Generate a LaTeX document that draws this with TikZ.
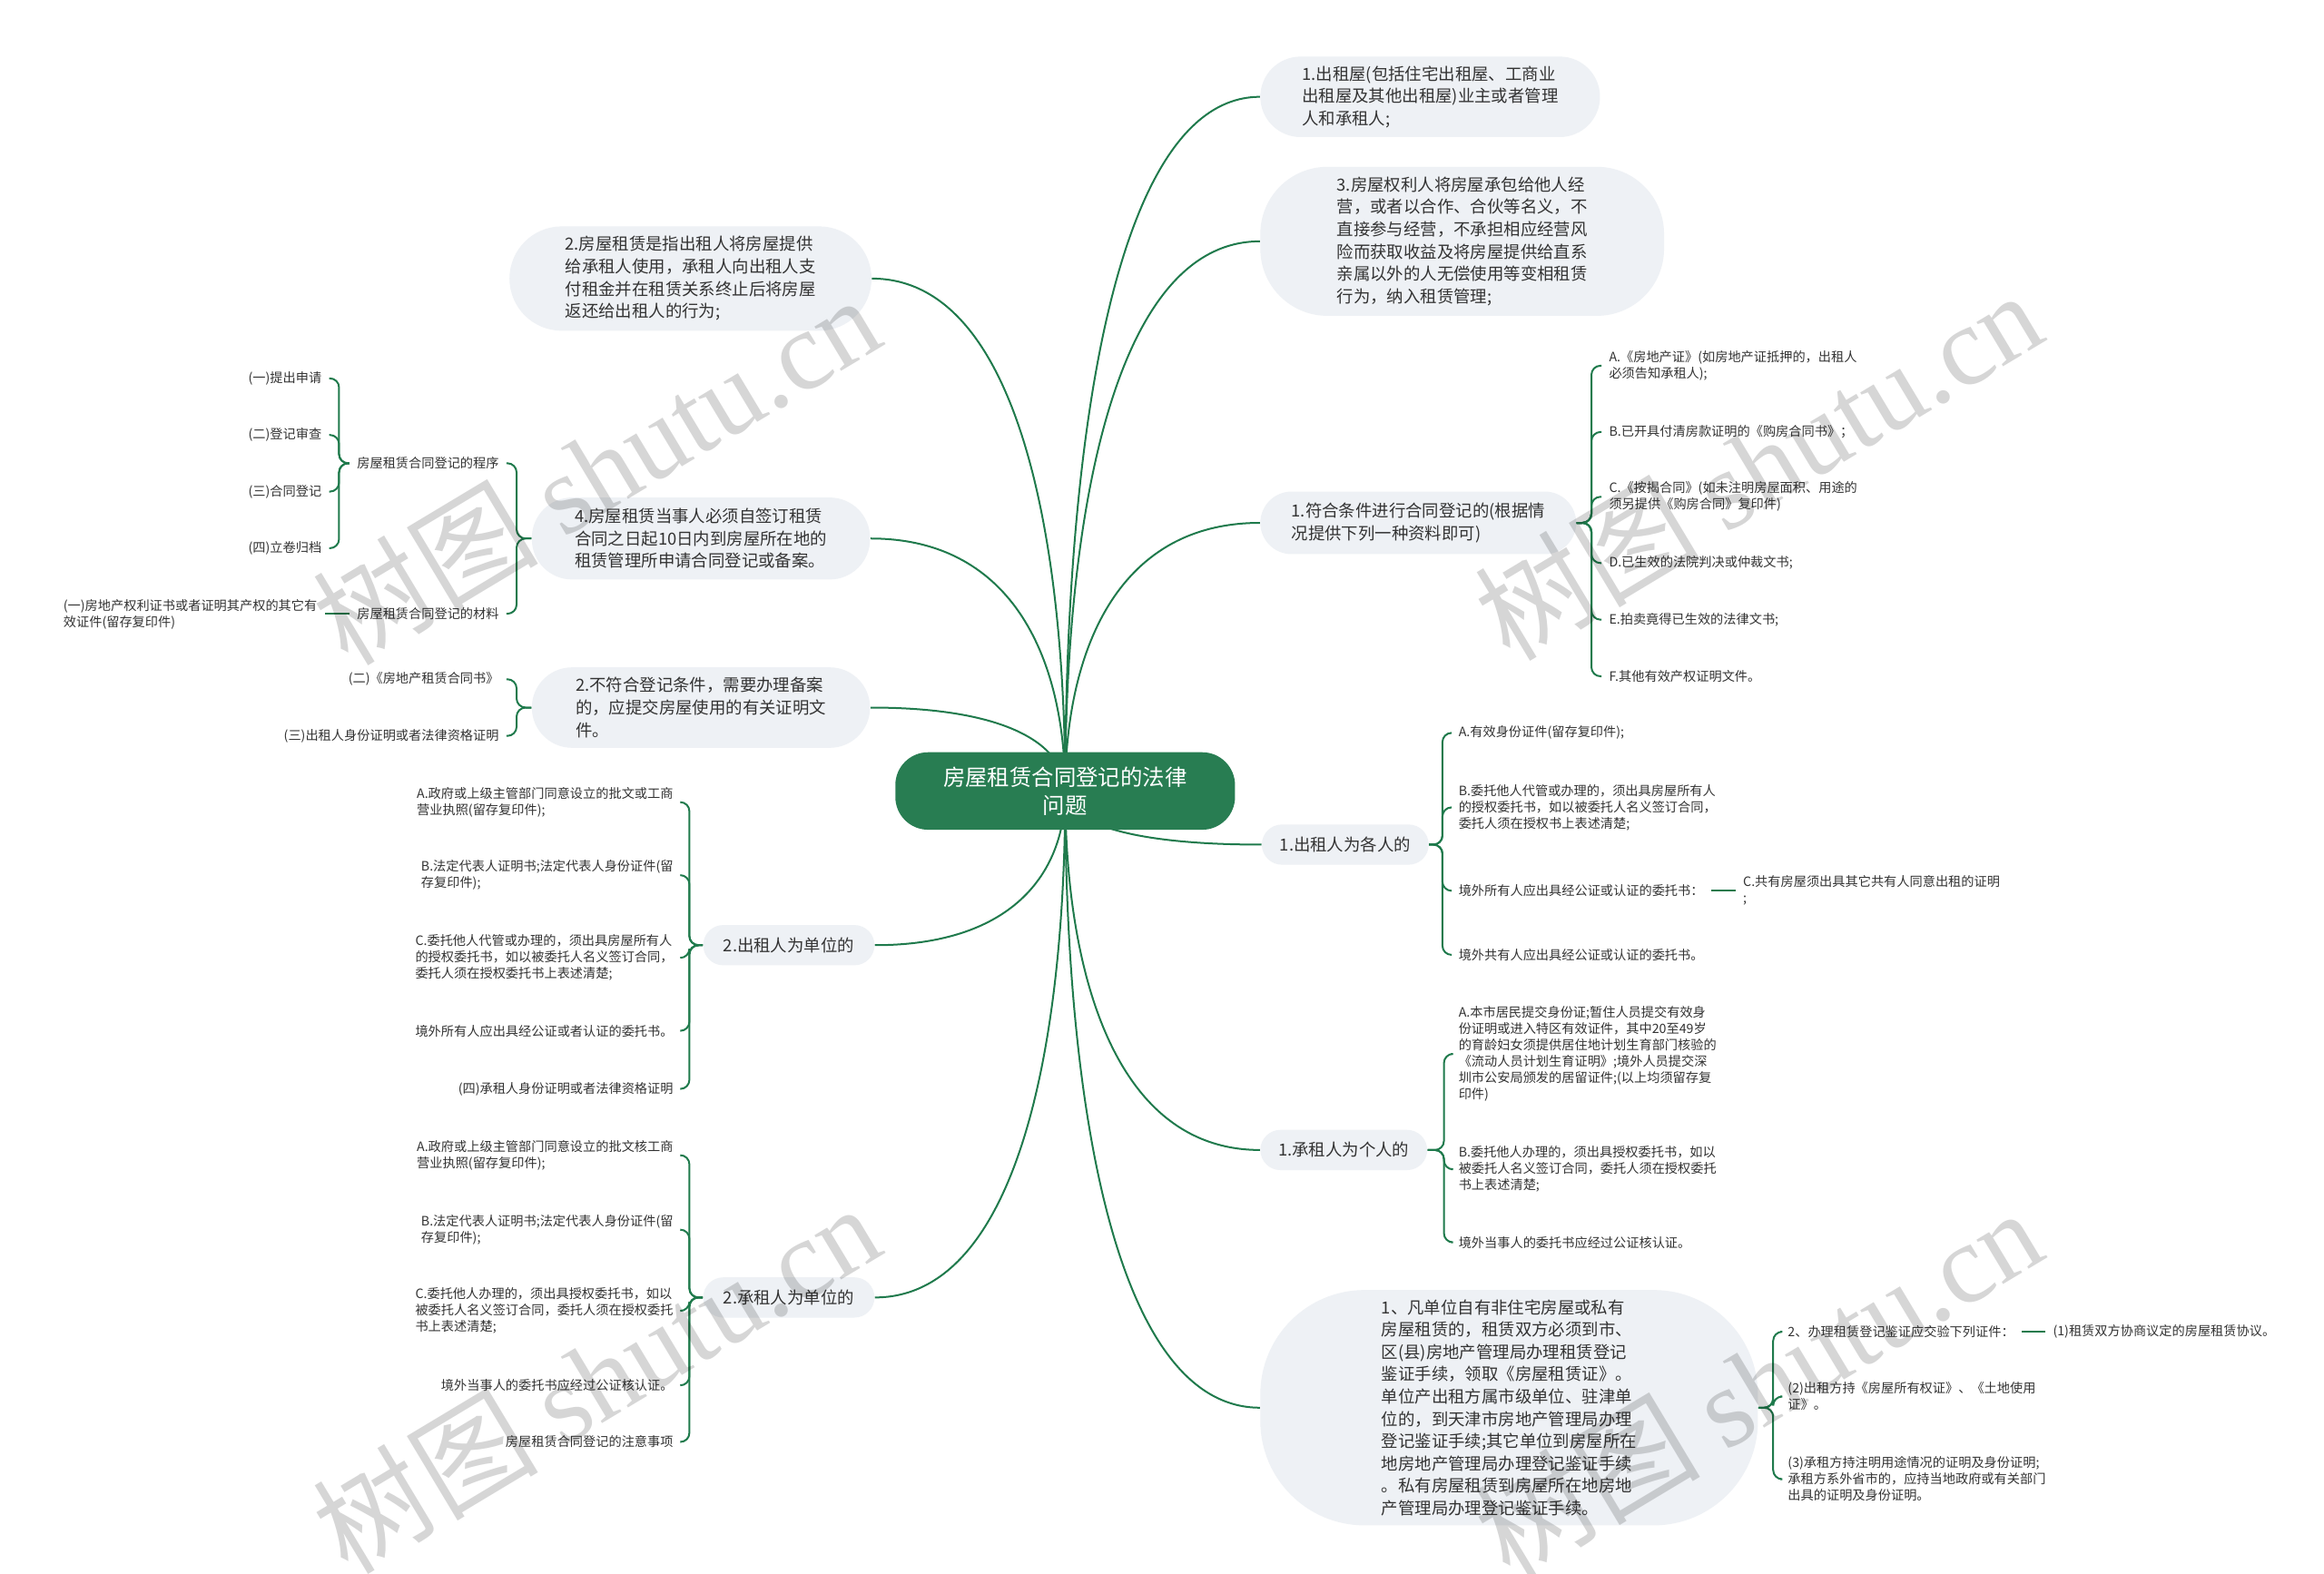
\documentclass[tikz,border=0pt]{standalone}
\usepackage{fontspec}
\setmainfont{Noto Sans CJK SC}
\newfontfamily\wmlatin{Liberation Serif}
\usetikzlibrary{calc}
\definecolor{lineg}{RGB}{31,122,76}
\definecolor{ctrfill}{RGB}{40,125,82}
\definecolor{boxfill}{RGB}{238,241,245}
\definecolor{txt}{RGB}{51,51,51}
\newcommand*\dpx{0.8205pt}
\pgfdeclarelayer{bg}
\pgfsetlayers{bg,main}
\newcommand\mconn[2]{\draw[conn] (ctr.center) .. controls ($(ctr.center)!0.5!(ctr.center|-#1.#2)$) and ($(ctr.center|-#1.#2)!0.25!(#1.#2)$) .. (#1.#2);}
\newcommand\brr[3][9]{\draw[conn] (#2.east) -- ++(#1,0) |- (#3.west);}
\newcommand\brl[3][9]{\draw[conn] (#2.west) -- ++(-#1,0) |- (#3.east);}
\begin{document}
\begin{tikzpicture}[x=0.8205pt,y=-0.8205pt,
  conn/.style={draw=lineg, line width=1pt, rounded corners=5pt},
  box/.style={fill=boxfill, text=txt, align=left, inner sep=0pt, font=\fontsize{9.2}{12.3}\selectfont},
  midbox/.style={box, minimum width=112*\dpx, minimum height=27*\dpx, rounded corners=13.5*\dpx},
  leaf/.style={text=txt, align=left, inner xsep=4pt, inner ysep=1pt, font=\fontsize{7.1}{9}\selectfont},
  leafr/.style={leaf, anchor=west},
  leafl/.style={leaf, anchor=east},
  wm/.style={text=black, opacity=0.16, font=\fontsize{62}{62}\selectfont, rotate=31, inner sep=0pt}]
\useasboundingbox (0,0) rectangle (1560,1056.1);
\begin{pgfonlayer}{bg}
\fill[white] (0,0) rectangle (1560,1056.1);
\end{pgfonlayer}

% centre
\node[fill=ctrfill, text=white, align=center, font=\fontsize{12.2}{15.6}\selectfont,
  minimum width=228*\dpx, minimum height=52*\dpx, rounded corners=22*\dpx, inner sep=0pt]
  (ctr) at (715,531) {房屋租赁合同登记的法律\\问题};

% right first level
\node[box, minimum width=228*\dpx, minimum height=54*\dpx, rounded corners=27*\dpx] (r1) at (960,65)
  {1.出租屋(包括住宅出租屋、工商业\\出租屋及其他出租屋)业主或者管理\\人和承租人;};
\node[box, minimum width=271*\dpx, minimum height=100*\dpx, rounded corners=45*\dpx] (r2) at (981.5,162)
  {3.房屋权利人将房屋承包给他人经\\营，或者以合作、合伙等名义，不\\直接参与经营，不承担相应经营风\\险而获取收益及将房屋提供给直系\\亲属以外的人无偿使用等变相租赁\\行为，纳入租赁管理;};
\node[box, minimum width=212*\dpx, minimum height=42*\dpx, rounded corners=21*\dpx] (r3) at (952,351)
  {1.符合条件进行合同登记的(根据情\\况提供下列一种资料即可)};
\node[midbox] (r4) at (903,567) {1.出租人为各人的};
\node[midbox] (r5) at (902,772) {1.承租人为个人的};
\node[box, minimum width=334*\dpx, minimum height=158*\dpx, rounded corners=70*\dpx] (r6) at (1013,945)
  {1、凡单位自有非住宅房屋或私有\\房屋租赁的，租赁双方必须到市、\\区(县)房地产管理局办理租赁登记\\鉴证手续，领取《房屋租赁证》。\\单位产出租方属市级单位、驻津单\\位的，到天津市房地产管理局办理\\登记鉴证手续;其它单位到房屋所在\\地房地产管理局办理登记鉴证手续\\。私有房屋租赁到房屋所在地房地\\产管理局办理登记鉴证手续。};

% left first level
\node[box, minimum width=243*\dpx, minimum height=70*\dpx, rounded corners=35*\dpx] (l1) at (463.5,187)
  {2.房屋租赁是指出租人将房屋提供\\给承租人使用，承租人向出租人支\\付租金并在租赁关系终止后将房屋\\返还给出租人的行为;};
\node[box, minimum width=227*\dpx, minimum height=55*\dpx, rounded corners=27*\dpx] (l2) at (470.5,361.5)
  {4.房屋租赁当事人必须自签订租赁\\合同之日起10日内到房屋所在地的\\租赁管理所申请合同登记或备案。};
\node[box, minimum width=227*\dpx, minimum height=54*\dpx, rounded corners=27*\dpx] (l3) at (470.5,475)
  {2.不符合登记条件，需要办理备案\\的，应提交房屋使用的有关证明文\\件。};
\node[box, minimum width=115*\dpx, minimum height=27*\dpx, rounded corners=13.5*\dpx] (l4) at (529.5,634.5) {2.出租人为单位的};
\node[box, minimum width=115*\dpx, minimum height=27*\dpx, rounded corners=13.5*\dpx] (l5) at (529.5,871) {2.承租人为单位的};

% r3 children
\node[leafr] (r3a) at (1075,245.5) {A.《房地产证》(如房地产证抵押的，出租人\\必须告知承租人);};
\node[leafr] (r3b) at (1075,290) {B.已开具付清房款证明的《购房合同书》；};
\node[leafr] (r3c) at (1075,333.5) {C.《按揭合同》(如未注明房屋面积、用途的\\须另提供《购房合同》复印件)};
\node[leafr] (r3d) at (1075,378) {D.已生效的法院判决或仲裁文书;};
\node[leafr] (r3e) at (1075,416) {E.拍卖竟得已生效的法律文书;};
\node[leafr] (r3f) at (1075,454) {F.其他有效产权证明文件。};

% r4 children
\node[leafr] (r4a) at (974,492) {A.有效身份证件(留存复印件);};
\node[leafr] (r4b) at (974,542) {B.委托他人代管或办理的，须出具房屋所有人\\的授权委托书，如以被委托人名义签订合同，\\委托人须在授权书上表述清楚;};
\node[leafr] (r4c) at (974,598) {境外所有人应出具经公证或认证的委托书：};
\node[leafr] (r4d) at (974,641) {境外共有人应出具经公证或认证的委托书。};
\node[leafr] (r4g) at (1165,597.5) {C.共有房屋须出具其它共有人同意出租的证明\\;};

% r5 children
\node[leafr] (r5a) at (974,707.5) {A.本市居民提交身份证;暂住人员提交有效身\\份证明或进入特区有效证件，其中20至49岁\\的育龄妇女须提供居住地计划生育部门核验的\\《流动人员计划生育证明》;境外人员提交深\\圳市公安局颁发的居留证件;(以上均须留存复\\印件)};
\node[leafr] (r5b) at (974,785) {B.委托他人办理的，须出具授权委托书，如以\\被委托人名义签订合同，委托人须在授权委托\\书上表述清楚;};
\node[leafr] (r5c) at (974,834) {境外当事人的委托书应经过公证核认证。};

% r6 children
\node[leafr] (r6a) at (1195,894) {2、办理租赁登记鉴证应交验下列证件：};
\node[leafr] (r6g) at (1373,894) {(1)租赁双方协商议定的房屋租赁协议。};
\node[leafr] (r6b) at (1195,937.5) {(2)出租方持《房屋所有权证》、《土地使用\\证》。};
\node[leafr] (r6c) at (1195,993) {(3)承租方持注明用途情况的证明及身份证明;\\承租方系外省市的，应持当地政府或有关部门\\出具的证明及身份证明。};

% l2 children
\node[leafl] (prog) at (340,311) {房屋租赁合同登记的程序};
\node[leafl] (mat) at (340,412) {房屋租赁合同登记的材料};
\node[leafl] (p1) at (221,254) {(一)提出申请};
\node[leafl] (p2) at (221,292) {(二)登记审查};
\node[leafl] (p3) at (221,330) {(三)合同登记};
\node[leafl] (p4) at (221,368) {(四)立卷归档};
\node[leafl] (m1) at (218,412.5) {(一)房地产权利证书或者证明其产权的其它有\\效证件(留存复印件)};

% l3 children
\node[leafl] (l3a) at (340,456) {(二)《房地产租赁合同书》};
\node[leafl] (l3b) at (340,494) {(三)出租人身份证明或者法律资格证明};

% l4 children
\node[leafl] (l4a) at (457,538.5) {A.政府或上级主管部门同意设立的批文或工商\\营业执照(留存复印件);};
\node[leafl] (l4b) at (457,587.5) {B.法定代表人证明书;法定代表人身份证件(留\\存复印件);};
\node[leafl] (l4c) at (457,643) {C.委托他人代管或办理的，须出具房屋所有人\\的授权委托书，如以被委托人名义签订合同，\\委托人须在授权委托书上表述清楚;};
\node[leafl] (l4d) at (457,692) {境外所有人应出具经公证或者认证的委托书。};
\node[leafl] (l4e) at (457,731) {(四)承租人身份证明或者法律资格证明};

% l5 children
\node[leafl] (l5a) at (457,775.5) {A.政府或上级主管部门同意设立的批文核工商\\营业执照(留存复印件);};
\node[leafl] (l5b) at (457,825.5) {B.法定代表人证明书;法定代表人身份证件(留\\存复印件);};
\node[leafl] (l5c) at (457,880) {C.委托他人办理的，须出具授权委托书，如以\\被委托人名义签订合同，委托人须在授权委托\\书上表述清楚;};
\node[leafl] (l5d) at (457,930) {境外当事人的委托书应经过公证核认证。};
\node[leafl] (l5e) at (457,968) {房屋租赁合同登记的注意事项};

\begin{pgfonlayer}{bg}
\mconn{r1}{west}\mconn{r2}{west}\mconn{r3}{west}\mconn{r4}{west}\mconn{r5}{west}\mconn{r6}{west}
\mconn{l1}{east}\mconn{l2}{east}\mconn{l3}{east}\mconn{l4}{east}\mconn{l5}{east}
\foreach \c in {r3a,r3b,r3c,r3d,r3e,r3f} {\brr[10]{r3}{\c}}
\foreach \c in {r4a,r4b,r4c,r4d} {\brr[9]{r4}{\c}}
\foreach \c in {r5a,r5b,r5c} {\brr[11]{r5}{\c}}
\foreach \c in {r6a,r6b,r6c} {\brr[10]{r6}{\c}}
\draw[conn] (r4c.east) -- (r4c.east -| r4g.west);
\draw[conn] (r6a.east) -- (r6g.west);
\foreach \c in {prog,mat} {\brl[10]{l2}{\c}}
\foreach \c in {p1,p2,p3,p4} {\brl[7]{prog}{\c}}
\draw[conn] (mat.west) -- (mat.west -| m1.east);
\foreach \c in {l3a,l3b} {\brl[10]{l3}{\c}}
\foreach \c in {l4a,l4b,l4c,l4d,l4e} {\brl[9]{l4}{\c}}
\foreach \c in {l5a,l5b,l5c,l5d,l5e} {\brl[9]{l5}{\c}}
\end{pgfonlayer}

% watermarks
\node[wm] (w1) at (400,315) {树图 {\wmlatin shutu.cn}};
\node[wm] (w2) at (1180,312) {树图 {\wmlatin shutu.cn}};
\node[wm] (w3) at (400,925) {树图 {\wmlatin shutu.cn}};
\node[wm] (w4) at (1180,928) {树图 {\wmlatin shutu.cn}};
\end{tikzpicture}
\end{document}
